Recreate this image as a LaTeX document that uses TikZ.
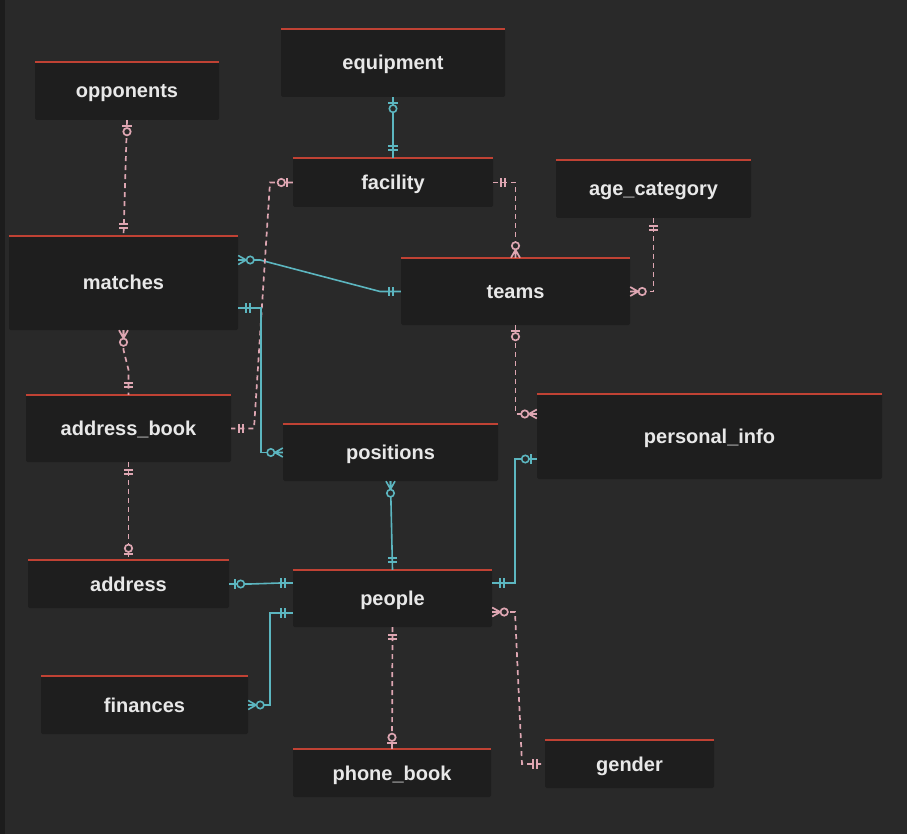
\documentclass[tikz,border=0pt]{standalone}
\usepackage{fontspec}
\setmainfont{Liberation Sans}
\definecolor{bg}{RGB}{41,41,41}
\definecolor{strip}{RGB}{28,28,28}
\definecolor{boxfill}{RGB}{30,30,30}
\definecolor{topred}{RGB}{192,66,52}
\definecolor{tealc}{RGB}{92,182,192}
\definecolor{pinkc}{RGB}{222,166,178}
\definecolor{txt}{RGB}{232,232,232}
\tikzset{
  box/.style={fill=boxfill, draw=none, rounded corners=1.5pt, text=txt,
    font=\fontsize{20}{24}\selectfont\bfseries, inner sep=0pt,
    text height=18pt, text depth=4pt},
  topline/.style={draw=topred, line width=1.8pt},
  relT/.style={draw=tealc, line width=1.6pt},
  relP/.style={draw=pinkc, line width=1.7pt, dash pattern=on 5pt off 4pt},
  mkT/.style={draw=tealc, line width=1.6pt},
  mkP/.style={draw=pinkc, line width=1.7pt}
}
\newcommand\mkOne[3]{\begin{scope}[shift={(#2)},rotate=#3]\draw[#1] (8,-4.7)--(8,4.7) (12,-4.7)--(12,4.7);\end{scope}}
\newcommand\mkZeroOne[3]{\begin{scope}[shift={(#2)},rotate=#3]\draw[#1] (6,-4.7)--(6,4.7);\draw[#1,fill=bg] (11.5,0) circle (3.7pt);\end{scope}}
\newcommand\mkMany[3]{\begin{scope}[shift={(#2)},rotate=#3]\draw[#1] (0,-4.5)--(8,0)--(0,4.5) (0,0)--(8,0);\draw[#1,fill=bg] (12,0) circle (3.7pt);\end{scope}}
\begin{document}
\begin{tikzpicture}[x=1pt,y=-1pt]
\useasboundingbox (0,0) rectangle (907,834);
\fill[bg] (0,0) rectangle (907,834);
\fill[strip] (0,0) rectangle (5,834);

% entities
\node[box, minimum width=184pt, minimum height=58pt] (opponents) at (127,91) {opponents};
\node[box, minimum width=224pt, minimum height=68pt] (equipment) at (393,63) {equipment};
\node[box, minimum width=200pt, minimum height=49pt] (facility) at (393,182.5) {facility};
\node[box, minimum width=195pt, minimum height=58pt] (agecat) at (653.5,189) {age\_category};
\node[box, minimum width=229pt, minimum height=94pt] (matches) at (123.5,283) {matches};
\node[box, minimum width=229pt, minimum height=67pt] (teams) at (515.5,291.5) {teams};
\node[box, minimum width=205pt, minimum height=67pt] (addrbook) at (128.5,428.5) {address\_book};
\node[box, minimum width=215pt, minimum height=57pt] (positions) at (390.5,452.5) {positions};
\node[box, minimum width=345pt, minimum height=85pt] (pinfo) at (709.5,436.5) {personal\_info};
\node[box, minimum width=201pt, minimum height=48pt] (address) at (128.5,584) {address};
\node[box, minimum width=199pt, minimum height=57pt] (people) at (392.5,598.5) {people};
\node[box, minimum width=207pt, minimum height=58pt] (finances) at (144.5,705) {finances};
\node[box, minimum width=198pt, minimum height=48pt] (phonebook) at (392,773) {phone\_book};
\node[box, minimum width=169pt, minimum height=48pt] (gender) at (629.5,764) {gender};

\foreach \n in {opponents,equipment,facility,agecat,matches,teams,addrbook,positions,pinfo,address,people,finances,phonebook,gender}
  \draw[topline] (\n.north west) -- (\n.north east);

% relations
% opponents - matches
\draw[relP] (opponents.south) -- (matches.north);
\mkZeroOne{mkP}{opponents.south}{270}
\mkOne{mkP}{matches.north}{90}
% equipment - facility
\draw[relT] (equipment.south) -- (facility.north);
\mkZeroOne{mkT}{equipment.south}{270}
\mkOne{mkT}{facility.north}{90}
% facility - teams
\draw[relP] (facility.east) -- (teams.north |- facility.east) -- (teams.north);
\mkOne{mkP}{facility.east}{0}
\mkMany{mkP}{teams.north}{90}
% age_category - teams
\draw[relP] (agecat.south) -- (agecat.south |- teams.east) -- (teams.east);
\mkOne{mkP}{agecat.south}{270}
\mkMany{mkP}{teams.east}{0}
% matches - teams
\draw[relT] ([yshift=23pt]matches.east) -- (260,260) -- (380,291.5) -- (teams.west);
\mkMany{mkT}{[yshift=23pt]matches.east}{0}
\mkOne{mkT}{teams.west}{180}
% facility - address_book
\draw[relP] (facility.west) -- (270,182.5) -- (254,428.5) -- (addrbook.east);
\mkZeroOne{mkP}{facility.west}{180}
\mkOne{mkP}{addrbook.east}{0}
% matches - positions
\draw[relT] ([yshift=-25pt]matches.east) -- (261,308) -- (261,452.5) -- (positions.west);
\mkOne{mkT}{[yshift=-25pt]matches.east}{0}
\mkMany{mkT}{positions.west}{180}
% teams - personal_info
\draw[relP] (teams.south) -- (515.5,414) -- ([yshift=22.5pt]pinfo.west);
\mkZeroOne{mkP}{teams.south}{270}
\mkMany{mkP}{[yshift=22.5pt]pinfo.west}{180}
% matches - address_book
\draw[relP] (matches.south) -- (123.5,350) -- (128.5,370) -- (addrbook.north);
\mkMany{mkP}{matches.south}{270}
\mkOne{mkP}{addrbook.north}{90}
% address_book - address
\draw[relP] (addrbook.south) -- (address.north);
\mkOne{mkP}{addrbook.south}{270}
\mkZeroOne{mkP}{address.north}{90}
% positions - people
\draw[relT] (positions.south) -- (people.north);
\mkMany{mkT}{positions.south}{270}
\mkOne{mkT}{people.north}{90}
% address - people
\draw[relT] (address.east) -- (250,584) -- (280,583) -- ([yshift=15.5pt]people.west);
\mkZeroOne{mkT}{address.east}{0}
\mkOne{mkT}{[yshift=15.5pt]people.west}{180}
% people - personal_info
\draw[relT] ([yshift=15.5pt]people.east) -- (515,583) -- (515,459) -- ([yshift=-22.5pt]pinfo.west);
\mkOne{mkT}{[yshift=15.5pt]people.east}{0}
\mkZeroOne{mkT}{[yshift=-22.5pt]pinfo.west}{180}
% people - finances
\draw[relT] ([yshift=-14.5pt]people.west) -- (270,613) -- (270,705) -- (finances.east);
\mkOne{mkT}{[yshift=-14.5pt]people.west}{180}
\mkMany{mkT}{finances.east}{0}
% people - phone_book
\draw[relP] (people.south) -- (phonebook.north);
\mkOne{mkP}{people.south}{270}
\mkZeroOne{mkP}{phonebook.north}{90}
% people - gender
\draw[relP] ([yshift=-13.5pt]people.east) -- (515,612) -- (522,764) -- (gender.west);
\mkMany{mkP}{[yshift=-13.5pt]people.east}{0}
\mkOne{mkP}{gender.west}{180}
\end{tikzpicture}
\end{document}
